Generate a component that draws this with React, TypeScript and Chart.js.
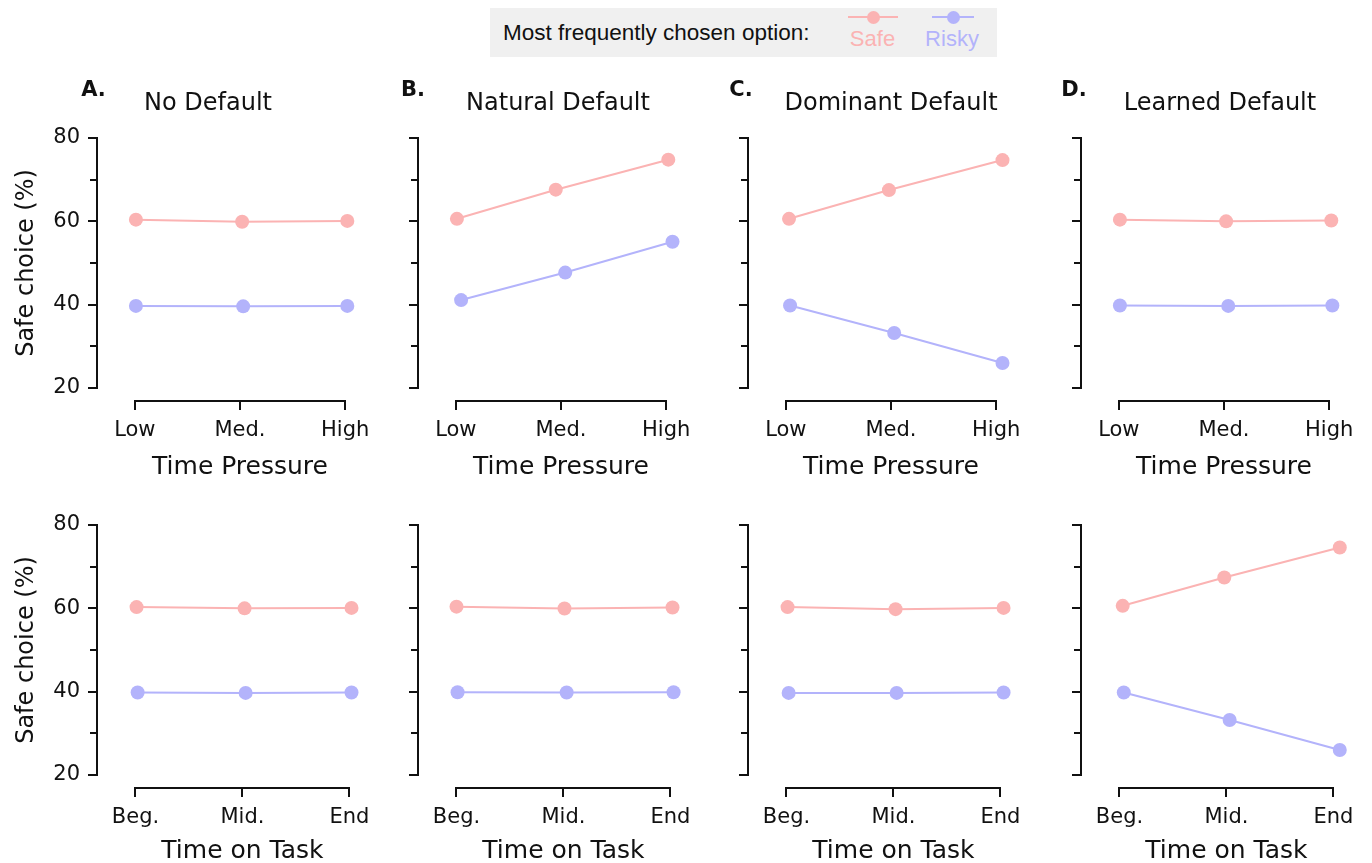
import React, { useEffect, useRef } from "react";
import { Chart, registerables } from "chart.js";

Chart.register(...registerables);

// ---------- data ----------
const timePressureLabels = ["Low", "Med.", "High"];
const timeOnTaskLabels = ["Beg.", "Mid.", "End"];
const yTickValues = [20, 30, 40, 50, 60, 70, 80];
const yLabelValues = [20, 40, 60, 80];
const panelLetters = ["A.", "B.", "C.", "D."];
const panelTitles = ["No Default", "Natural Default", "Dominant Default", "Learned Default"];
const seriesNames = ["Safe", "Risky"];
const rowAxisTitles = ["Time Pressure", "Time on Task"];
const yAxisTitle = "Safe choice (%)";
const legendTitle = "Most frequently chosen option:";

// Top row (Time Pressure)
const safeTopA = [60.4, 59.9, 60.1];
const riskyTopA = [39.7, 39.6, 39.7];
const safeTopB = [60.6, 67.6, 74.8];
const riskyTopB = [41.1, 47.7, 55.1];
const safeTopC = [60.6, 67.5, 74.7];
const riskyTopC = [39.8, 33.2, 26.0];
const safeTopD = [60.4, 60.0, 60.2];
const riskyTopD = [39.8, 39.7, 39.8];

// Bottom row (Time on Task)
const safeBotA = [60.3, 60.0, 60.1];
const riskyBotA = [39.8, 39.7, 39.8];
const safeBotB = [60.4, 59.95, 60.2];
const riskyBotB = [39.85, 39.8, 39.85];
const safeBotC = [60.3, 59.8, 60.1];
const riskyBotC = [39.7, 39.7, 39.8];
const safeBotD = [60.6, 67.4, 74.6];
const riskyBotD = [39.8, 33.2, 26.0];

// small horizontal dodge of the points (category units)
const safeTopAJit = [0.01, 0.02, 0.02];
const riskyTopAJit = [0.01, 0.03, 0.02];
const safeTopBJit = [0.01, -0.05, 0.02];
const riskyTopBJit = [0.05, 0.04, 0.06];
const safeTopCJit = [0.03, -0.02, 0.06];
const riskyTopCJit = [0.04, 0.03, 0.06];
const safeTopDJit = [0.01, 0.02, 0.02];
const riskyTopDJit = [0.01, 0.04, 0.03];
const safeBotAJit = [0.01, 0.02, 0.02];
const riskyBotAJit = [0.02, 0.03, 0.02];
const safeBotBJit = [0.0, 0.01, 0.02];
const riskyBotBJit = [0.01, 0.03, 0.03];
const safeBotCJit = [0.01, 0.02, 0.03];
const riskyBotCJit = [0.02, 0.03, 0.03];
const safeBotDJit = [0.03, -0.02, 0.06];
const riskyBotDJit = [0.04, 0.03, 0.06];

// ---------- styles / layout ----------
const SAFE_COLOR = "#fbb3b3";
const RISKY_COLOR = "#b3b3fb";
const AXIS_COLOR = "#111111";
const TEXT_COLOR = "#111111";
const FONT = "'DejaVu Sans', sans-serif";
const LEGEND_FONT = "'Liberation Sans', Arial, sans-serif";

const AXIS_X = [97, 418, 748, 1081];
const ROW_Y80 = [138, 525];
const Y_AXIS_W = 90;
const PAD_TOP = 70;
const PAD_RIGHT = 14;
const X_AXIS_H = 75;
const CHART_W = 267;
const CHART_H = 263;
const CANVAS_W = Y_AXIS_W + CHART_W + PAD_RIGHT;
const CANVAS_H = PAD_TOP + CHART_H + X_AXIS_H;
const X_MIN = -0.36;
const X_MAX = 2.12;
const Y_MAX = 80;
const Y_MIN = 20 - (13 * 60) / 250;
const LETTER_X = [93.5, 413, 741, 1074];
const TITLE_X = [208, 558, 891, 1220];
const LETTER_BASELINE = 96;
const TITLE_BASELINE = 110;
const X_TITLE_OFFSET = [73, 69.5];
const Y_TITLE_X = 27;
const POINT_RADIUS = 7;

type PanelDef = {
  row: number;
  col: number;
  safe: number[];
  risky: number[];
  safeJ: number[];
  riskyJ: number[];
};

const panels: PanelDef[] = [
  { row: 0, col: 0, safe: safeTopA, risky: riskyTopA, safeJ: safeTopAJit, riskyJ: riskyTopAJit },
  { row: 0, col: 1, safe: safeTopB, risky: riskyTopB, safeJ: safeTopBJit, riskyJ: riskyTopBJit },
  { row: 0, col: 2, safe: safeTopC, risky: riskyTopC, safeJ: safeTopCJit, riskyJ: riskyTopCJit },
  { row: 0, col: 3, safe: safeTopD, risky: riskyTopD, safeJ: safeTopDJit, riskyJ: riskyTopDJit },
  { row: 1, col: 0, safe: safeBotA, risky: riskyBotA, safeJ: safeBotAJit, riskyJ: riskyBotAJit },
  { row: 1, col: 1, safe: safeBotB, risky: riskyBotB, safeJ: safeBotBJit, riskyJ: riskyBotBJit },
  { row: 1, col: 2, safe: safeBotC, risky: riskyBotC, safeJ: safeBotCJit, riskyJ: riskyBotCJit },
  { row: 1, col: 3, safe: safeBotD, risky: riskyBotD, safeJ: safeBotDJit, riskyJ: riskyBotDJit },
];

function Panel({ def }: { def: PanelDef }) {
  const ref = useRef<HTMLCanvasElement>(null);
  const canvasLeft = AXIS_X[def.col] - Y_AXIS_W;
  const canvasTop = ROW_Y80[def.row] - PAD_TOP;

  useEffect(() => {
    const canvas = ref.current;
    if (!canvas) return;
    const labels = def.row === 0 ? timePressureLabels : timeOnTaskLabels;

    const overlay = {
      id: "overlay" + def.row + def.col,
      afterDraw(chart: any) {
        const { ctx, chartArea } = chart;
        const xs = chart.scales.x;
        const ys = chart.scales.y;
        ctx.save();
        ctx.strokeStyle = AXIS_COLOR;
        ctx.lineWidth = 2;
        const lx = Math.round(chartArea.left);
        const by = Math.round(chartArea.bottom);
        // y spine
        ctx.beginPath();
        ctx.moveTo(lx, Math.round(ys.getPixelForValue(80)) - 1);
        ctx.lineTo(lx, Math.round(ys.getPixelForValue(20)) + 1);
        ctx.stroke();
        // minor y ticks
        yTickValues
          .filter((v) => !yLabelValues.includes(v))
          .forEach((v) => {
            const py = Math.round(ys.getPixelForValue(v));
            ctx.beginPath();
            ctx.moveTo(lx - 7, py);
            ctx.lineTo(lx, py);
            ctx.stroke();
          });
        // x spine
        ctx.beginPath();
        ctx.moveTo(Math.round(xs.getPixelForValue(0)) - 1, by);
        ctx.lineTo(Math.round(xs.getPixelForValue(labels.length - 1)) + 1, by);
        ctx.stroke();

        ctx.fillStyle = TEXT_COLOR;
        ctx.textAlign = "center";
        ctx.textBaseline = "alphabetic";
        ctx.font = `25px ${FONT}`;
        ctx.fillText(rowAxisTitles[def.row], xs.getPixelForValue(1), by + X_TITLE_OFFSET[def.row]);

        if (def.col === 0) {
          ctx.save();
          ctx.translate(Y_TITLE_X - canvasLeft, ys.getPixelForValue(50));
          ctx.rotate(-Math.PI / 2);
          ctx.font = `24px ${FONT}`;
          ctx.textBaseline = "middle";
          ctx.fillText(yAxisTitle, 0, 0);
          ctx.restore();
        }
        if (def.row === 0) {
          ctx.font = `bold 21px ${FONT}`;
          ctx.fillText(panelLetters[def.col], LETTER_X[def.col] - canvasLeft, LETTER_BASELINE - canvasTop);
          ctx.font = `24px ${FONT}`;
          ctx.fillText(panelTitles[def.col], TITLE_X[def.col] - canvasLeft, TITLE_BASELINE - canvasTop);
        }
        ctx.restore();
      },
    };

    const mkDataset = (name: string, vals: number[], jit: number[], color: string) => ({
      label: name,
      data: vals.map((v, i) => ({ x: i + jit[i], y: v })),
      borderColor: color,
      backgroundColor: color,
      pointBackgroundColor: color,
      pointBorderColor: color,
      pointBorderWidth: 0,
      pointRadius: POINT_RADIUS,
      borderWidth: 2,
      tension: 0,
      clip: false as any,
    });

    const chart = new Chart(canvas, {
      type: "line",
      data: {
        datasets: [
          mkDataset(seriesNames[0], def.safe, def.safeJ, SAFE_COLOR),
          mkDataset(seriesNames[1], def.risky, def.riskyJ, RISKY_COLOR),
        ],
      },
      options: {
        responsive: false,
        animation: false,
        devicePixelRatio: 1,
        events: [],
        layout: { padding: { top: PAD_TOP, right: PAD_RIGHT, left: 0, bottom: 0 } },
        plugins: {
          legend: { display: false },
          tooltip: { enabled: false },
          title: { display: false },
        },
        scales: {
          x: {
            type: "linear",
            position: "bottom",
            min: X_MIN,
            max: X_MAX,
            afterBuildTicks: (s: any) => {
              s.ticks = labels.map((_, i) => ({ value: i }));
            },
            afterFit: (s: any) => {
              s.height = X_AXIS_H;
            },
            ticks: {
              callback: (v: any) => labels[Math.round(Number(v))] ?? "",
              font: { family: FONT, size: 21 },
              color: TEXT_COLOR,
              padding: 8,
              maxRotation: 0,
              autoSkip: false,
            },
            grid: {
              drawOnChartArea: false,
              drawTicks: true,
              tickLength: 9,
              color: AXIS_COLOR,
              lineWidth: 2,
            },
            border: { display: false },
          },
          y: {
            type: "linear",
            min: Y_MIN,
            max: Y_MAX,
            afterBuildTicks: (s: any) => {
              s.ticks = yTickValues.map((v) => ({ value: v }));
            },
            afterFit: (s: any) => {
              s.width = Y_AXIS_W;
            },
            ticks: {
              callback: (v: any) =>
                def.col === 0 && yLabelValues.includes(Number(v)) ? String(v) : "",
              font: { family: FONT, size: 21 },
              color: TEXT_COLOR,
              padding: 8,
            },
            grid: {
              drawOnChartArea: false,
              drawTicks: true,
              tickLength: 9,
              color: AXIS_COLOR,
              lineWidth: 2,
              tickColor: (c: any) =>
                c.tick && yLabelValues.includes(c.tick.value) ? AXIS_COLOR : "rgba(0,0,0,0)",
            },
            border: { display: false },
          },
        },
      },
      plugins: [overlay],
    } as any);
    return () => chart.destroy();
  }, []);

  return (
    <canvas
      ref={ref}
      width={CANVAS_W}
      height={CANVAS_H}
      style={{
        position: "absolute",
        left: canvasLeft,
        top: canvasTop,
        width: CANVAS_W,
        height: CANVAS_H,
      }}
    />
  );
}

function BaselineText(props: {
  text: string;
  x: number;
  baseline: number;
  size: number;
  color: string;
  center?: boolean;
}) {
  const { text, x, baseline, size, color, center } = props;
  return (
    <div
      style={{
        position: "absolute",
        left: x,
        top: baseline - 0.8465 * size,
        fontFamily: LEGEND_FONT,
        fontSize: size,
        lineHeight: `${size}px`,
        color,
        whiteSpace: "nowrap",
        transform: center ? "translateX(-50%)" : undefined,
      }}
    >
      {text}
    </div>
  );
}

function LegendMarker({ cx, cy, half, color }: { cx: number; cy: number; half: number; color: string }) {
  return (
    <>
      <div
        style={{
          position: "absolute",
          left: cx - half,
          top: cy - 1,
          width: half * 2,
          height: 2,
          background: color,
        }}
      />
      <div
        style={{
          position: "absolute",
          left: cx - 6.5,
          top: cy - 6.5,
          width: 13,
          height: 13,
          borderRadius: "50%",
          background: color,
        }}
      />
    </>
  );
}

export default function App() {
  return (
    <div
      style={{
        position: "absolute",
        left: 0,
        top: 0,
        width: 1372,
        height: 863,
        overflow: "hidden",
        background: "#ffffff",
      }}
    >
      <div
        style={{
          position: "absolute",
          left: 490,
          top: 8,
          width: 507,
          height: 49,
          background: "#f0f0f0",
        }}
      />
      <BaselineText text={legendTitle} x={503} baseline={41} size={22.5} color={TEXT_COLOR} />
      <LegendMarker cx={873} cy={17} half={25} color={SAFE_COLOR} />
      <LegendMarker cx={953} cy={17} half={21} color={RISKY_COLOR} />
      <BaselineText text={seriesNames[0]} x={872.5} baseline={47} size={22} color={SAFE_COLOR} center />
      <BaselineText text={seriesNames[1]} x={952} baseline={47} size={22} color={RISKY_COLOR} center />
      {panels.map((p) => (
        <Panel key={`${p.row}-${p.col}`} def={p} />
      ))}
    </div>
  );
}
